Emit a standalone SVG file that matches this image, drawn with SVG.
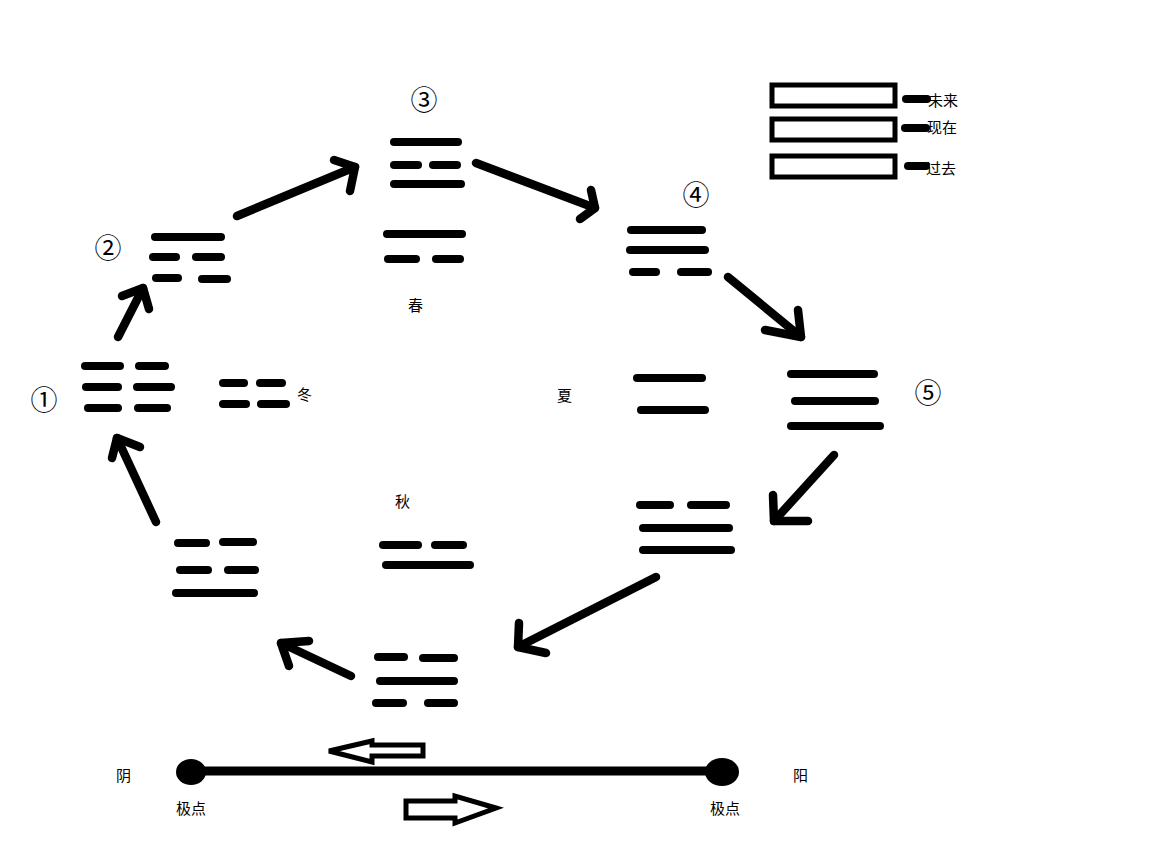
<svg xmlns="http://www.w3.org/2000/svg" width="1152" height="849" viewBox="0 0 1152 849">
<style>
.b{stroke:#000;stroke-width:8;stroke-linecap:round;fill:none}
.a{stroke:#000;stroke-width:8.5;stroke-linecap:round;stroke-linejoin:round;fill:none}
.t{font-family:"Noto Sans CJK SC","Liberation Sans",sans-serif;font-size:15px;fill:#000}
.n{font-family:"Noto Sans CJK SC","DejaVu Sans",sans-serif;font-size:27px;fill:#000;text-anchor:middle}
.box{fill:#fff;stroke:#000;stroke-width:5}
.h{fill:#fff;stroke:#000;stroke-width:5;stroke-linejoin:miter}
</style>
<rect width="1152" height="849" fill="#fff"/>
<g id="legend">
<rect class="box" x="772" y="85" width="123" height="21"/>
<rect class="box" x="772" y="119" width="123" height="21"/>
<rect class="box" x="772" y="156" width="123" height="21"/>
<line class="b" x1="906" y1="99" x2="927" y2="99" stroke-width="6"/>
<line class="b" x1="905" y1="128" x2="926" y2="128" stroke-width="6"/>
<line class="b" x1="908" y1="166" x2="926" y2="166" stroke-width="6"/>
<text class="t" x="928" y="106">未来</text>
<text class="t" x="927" y="133">现在</text>
<text class="t" x="926" y="174">过去</text>
</g>
<g id="n1">
<text class="n" x="44" y="410">①</text>
<line class="b" x1="85" y1="366" x2="120" y2="366"/><line class="b" x1="139" y1="366" x2="165" y2="366"/>
<line class="b" x1="86" y1="387" x2="118" y2="387"/><line class="b" x1="137" y1="387" x2="171" y2="387"/>
<line class="b" x1="88" y1="408" x2="118" y2="408"/><line class="b" x1="138" y1="408" x2="167" y2="408"/>
</g>
<g id="winter">
<line class="b" x1="223" y1="383" x2="244" y2="383"/><line class="b" x1="260" y1="383" x2="282" y2="383"/>
<line class="b" x1="223" y1="404" x2="246" y2="404"/><line class="b" x1="261" y1="404" x2="286" y2="404"/>
<text class="t" x="297" y="400">冬</text>
</g>
<g id="n2">
<text class="n" x="108" y="258">②</text>
<line class="b" x1="155" y1="237" x2="221" y2="237"/>
<line class="b" x1="153" y1="257" x2="176" y2="257"/><line class="b" x1="196" y1="257" x2="221" y2="257"/>
<line class="b" x1="156" y1="278" x2="178" y2="278"/><line class="b" x1="202" y1="279" x2="227" y2="279"/>
</g>
<g id="n3">
<text class="n" x="424" y="110">③</text>
<line class="b" x1="394" y1="142" x2="458" y2="142"/>
<line class="b" x1="394" y1="165" x2="418" y2="165"/><line class="b" x1="433" y1="165" x2="457" y2="165"/>
<line class="b" x1="394" y1="184" x2="461" y2="184"/>
</g>
<g id="spring">
<line class="b" x1="387" y1="234" x2="462" y2="234"/>
<line class="b" x1="388" y1="259" x2="416" y2="259"/><line class="b" x1="436" y1="259" x2="460" y2="259"/>
<text class="t" x="408" y="311">春</text>
</g>
<g id="n4">
<text class="n" x="696" y="205">④</text>
<line class="b" x1="631" y1="230" x2="702" y2="230"/>
<line class="b" x1="630" y1="250" x2="705" y2="250"/>
<line class="b" x1="633" y1="272" x2="656" y2="272"/><line class="b" x1="681" y1="272" x2="708" y2="272"/>
</g>
<g id="summer">
<text class="t" x="557" y="401">夏</text>
<line class="b" x1="637" y1="378" x2="702" y2="378"/>
<line class="b" x1="641" y1="410" x2="705" y2="410"/>
</g>
<g id="n5">
<line class="b" x1="791" y1="374" x2="874" y2="374"/>
<line class="b" x1="795" y1="401" x2="875" y2="401"/>
<line class="b" x1="791" y1="426" x2="880" y2="426"/>
<text class="n" x="928" y="403">⑤</text>
</g>
<g id="n6">
<line class="b" x1="640" y1="505" x2="670" y2="505"/><line class="b" x1="691" y1="505" x2="726" y2="505"/>
<line class="b" x1="643" y1="528" x2="729" y2="528"/>
<line class="b" x1="643" y1="550" x2="731" y2="550"/>
</g>
<g id="n7">
<line class="b" x1="378" y1="657" x2="404" y2="657"/><line class="b" x1="423" y1="658" x2="454" y2="658"/>
<line class="b" x1="380" y1="681" x2="454" y2="681"/>
<line class="b" x1="376" y1="703" x2="403" y2="703"/><line class="b" x1="428" y1="703" x2="454" y2="703"/>
</g>
<g id="autumn">
<text class="t" x="395" y="507">秋</text>
<line class="b" x1="383" y1="545" x2="418" y2="545"/><line class="b" x1="435" y1="545" x2="463" y2="545"/>
<line class="b" x1="386" y1="565" x2="470" y2="565"/>
</g>
<g id="n8">
<line class="b" x1="178" y1="543" x2="206" y2="543"/><line class="b" x1="223" y1="542" x2="253" y2="542"/>
<line class="b" x1="180" y1="570" x2="208" y2="570"/><line class="b" x1="228" y1="570" x2="255" y2="570"/>
<line class="b" x1="176" y1="593" x2="254" y2="593"/>
</g>
<g id="connectors">
<polyline class="a" points="118,337 143,288"/><polyline class="a" points="122,296 143,288 149,309"/>
<polyline class="a" points="237,216 355,167"/><polyline class="a" points="334,160 355,167 350,191"/>
<polyline class="a" points="476,163 595,208"/><polyline class="a" points="591,190 595,208 580,219"/>
<polyline class="a" points="728,277 801,337"/><polyline class="a" points="765,330 801,337 798,310"/>
<polyline class="a" points="834,455 774,521"/><polyline class="a" points="773,495 774,521 808,521"/>
<polyline class="a" points="656,577 518,647"/><polyline class="a" points="519,623 518,647 546,653"/>
<polyline class="a" points="351,676 281,643"/><polyline class="a" points="309,641 281,643 289,666"/>
<polyline class="a" points="156,522 117,438"/><polyline class="a" points="112,458 117,438 140,447"/>
</g>
<g id="axis">
<line x1="190" y1="771" x2="722" y2="771" stroke="#000" stroke-width="9"/>
<ellipse cx="191" cy="772" rx="15" ry="13" fill="#000"/>
<ellipse cx="722" cy="772" rx="17" ry="14" fill="#000"/>
<polygon class="h" points="329,751 372,741 372,745 423,745 423,756 372,756 372,762"/>
<polygon class="h" points="496,808 455,796 455,801 406,801 406,818 455,818 455,823"/>
<text class="t" x="116" y="781">阴</text>
<text class="t" x="793" y="781">阳</text>
<text class="t" x="176" y="814">极点</text>
<text class="t" x="710" y="814">极点</text>
</g>
</svg>
